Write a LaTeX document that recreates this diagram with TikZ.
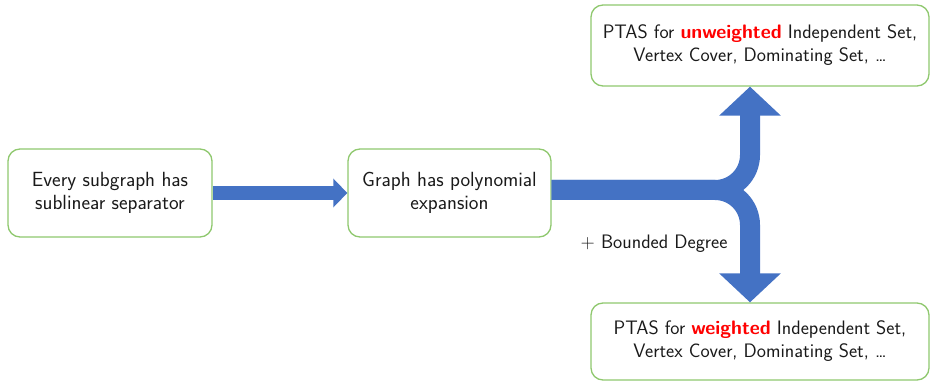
\documentclass[tikz,border=0pt]{standalone}
\usetikzlibrary{arrows.meta,calc}
\definecolor{boxgreen}{HTML}{8FC86E}
\definecolor{flowblue}{HTML}{4472C4}
\definecolor{hilite}{HTML}{FF0000}
\definecolor{ink}{HTML}{1A1A1A}
\begin{document}
\begin{tikzpicture}[x=1pt,y=-1pt,
  font=\sffamily\fontsize{19.5}{23}\selectfont,
  bigtext/.style={font=\sffamily\fontsize{20.5}{23}\selectfont},
  stagebox/.style={draw=boxgreen, line width=1.3pt, rounded corners=12pt,
    fill=white, align=center, text=ink, inner sep=0pt},
  smallflow/.style={draw=flowblue, line width=14pt,
    -{Triangle[length=14pt,width=28pt]}},
  bigflow/.style={draw=flowblue, line width=20pt, rounded corners=35pt,
    -{Triangle[length=29pt,width=60pt]}}
]
\useasboundingbox (0,0) rectangle (931,382);

% the four statements
\node[stagebox, bigtext, minimum width=204pt, minimum height=88pt] (sep) at (110,193)
  {Every subgraph has\\sublinear separator};
\node[stagebox, bigtext, minimum width=203pt, minimum height=88pt] (exp) at (449.5,193)
  {Graph has polynomial\\expansion};
\node[stagebox, minimum width=338pt, minimum height=81pt] (unw) at (760,45.5)
  {PTAS for \textbf{\color{hilite}unweighted} Independent Set,\\Vertex Cover, Dominating Set, \dots};
\node[stagebox, minimum width=338pt, minimum height=77pt] (wgt) at (760,341.5)
  {PTAS for \textbf{\color{hilite}weighted} Independent Set,\\Vertex Cover, Dominating Set, \dots};

% implications
\draw[smallflow] (sep.east) -- (exp.west);

\coordinate (fork) at (750,190);
\draw[bigflow] (exp.east |- fork) -- (fork) -- (fork |- wgt.north);
\draw[bigflow] (exp.east |- fork) -- (fork) -- (fork |- unw.south);

\node[text=ink, anchor=east] (bd) at (731,244) {+ Bounded Degree};
\end{tikzpicture}
\end{document}
